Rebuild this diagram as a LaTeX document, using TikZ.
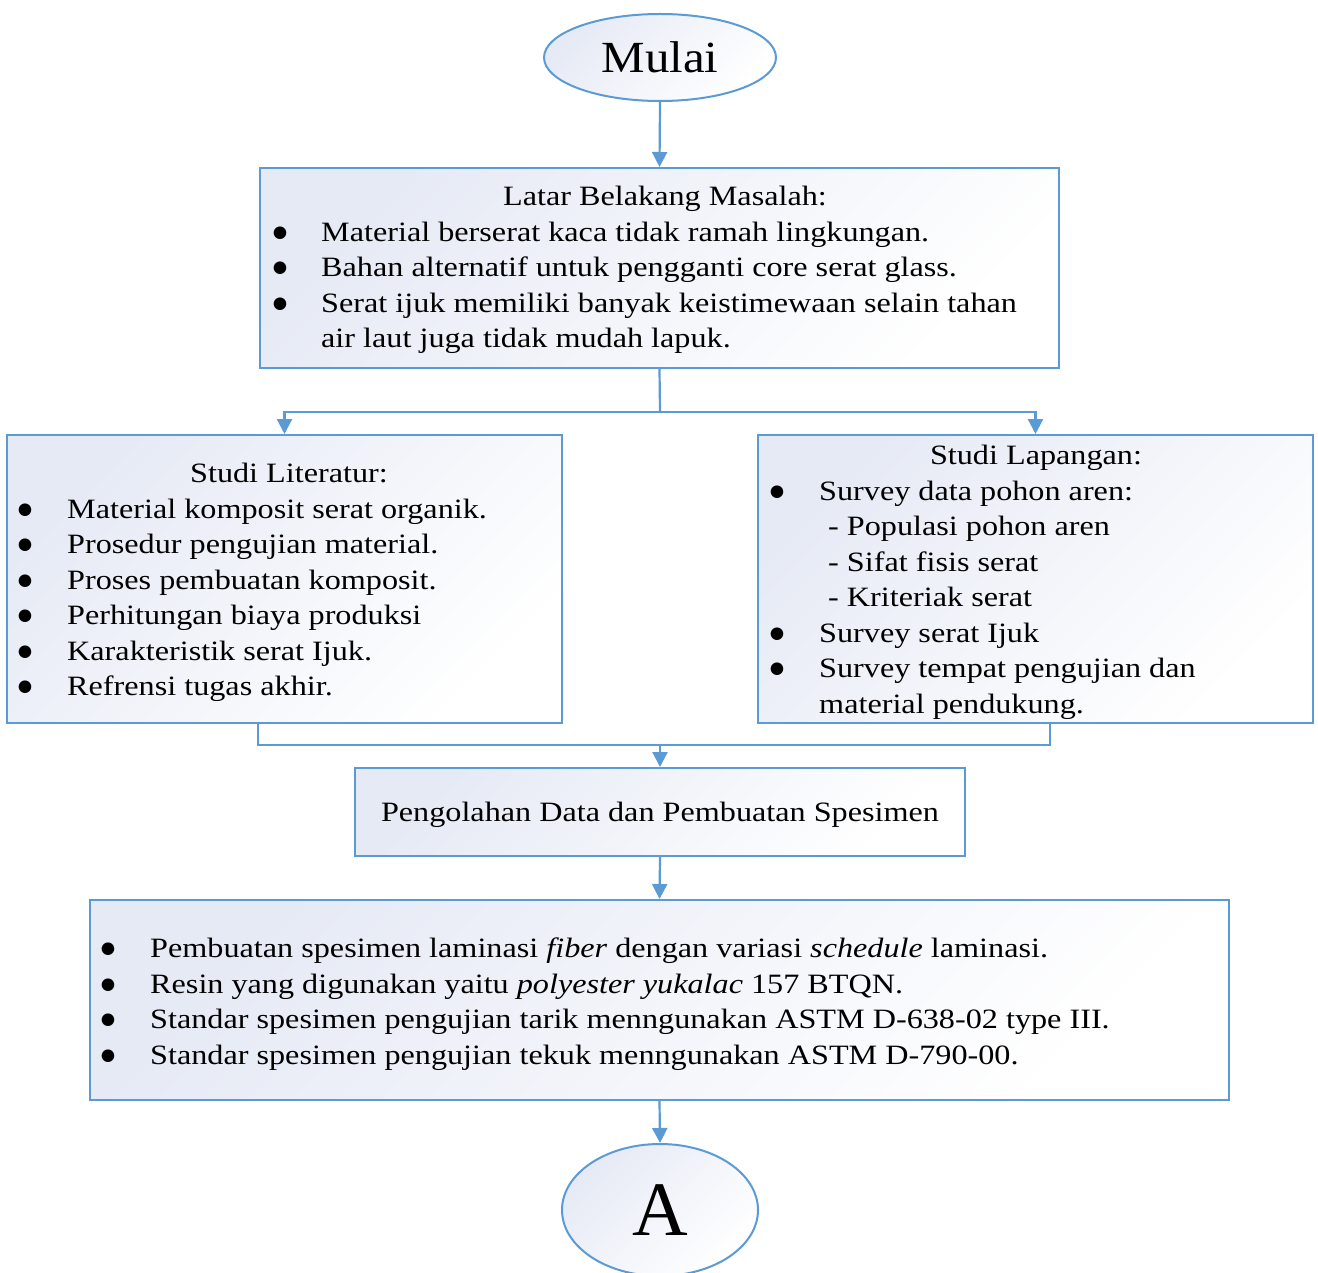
\documentclass[tikz,border=0pt]{standalone}
\usepackage{fontspec}
\setmainfont{Liberation Serif}
\newfontfamily\bodyf[FakeStretch=1.15]{Liberation Serif}
\newfontfamily\titlef[FakeStretch=1.1]{Liberation Serif}
\newfontfamily\symf{DejaVu Sans}
\usetikzlibrary{shapes.geometric,arrows.meta}
\definecolor{edge}{HTML}{5B9BD5}
\definecolor{shadeA}{HTML}{E6EAF5}
\newcommand{\bigbul}{\raisebox{4pt}{\symf\fontsize{16.5}{16.5}\selectfont ●}}
\begin{document}
\begin{tikzpicture}[x=1pt,y=-1pt,
 box/.style={draw=edge, line width=2pt, top color=shadeA, bottom color=white, shading angle=45, rectangle, inner sep=0pt},
 oval/.style={box, ellipse},
 ln/.style={draw=edge, line width=2.2pt},
 arr/.style={ln, -{Triangle[width=15pt,length=15pt]}},
 txt/.style={anchor=base west, inner sep=0pt, font=\bodyf\fontsize{28}{35.5}\selectfont},
 ttl/.style={txt, anchor=base},
 blt/.style={txt, anchor=base},
]
\useasboundingbox[fill=white] (0,0) rectangle (1318,1273);

% shapes
\node[oval, minimum width=232pt, minimum height=87pt, font=\titlef\fontsize{44.5}{44.5}\selectfont] (mulai) at (660,57.5) {Mulai};
\node[box, minimum width=799pt, minimum height=200pt] (latar) at (659.5,268) {};
\node[box, minimum width=555pt, minimum height=288pt] (lit) at (284.5,579) {};
\node[box, minimum width=555pt, minimum height=288pt] (lap) at (1035.5,579) {};
\node[box, minimum width=610pt, minimum height=88pt, text depth=0pt, font=\bodyf\fontsize{28}{35.5}\selectfont] (peng) at (660,812) {Pengolahan Data dan Pembuatan Spesimen};
\node[box, minimum width=1139pt, minimum height=200pt] (bot) at (659.5,1000) {};
\node[oval, minimum width=196pt, minimum height=132pt, font=\fontsize{77}{77}\selectfont] (endA) at (660,1210) {A};

% connectors
\coordinate (sp) at (660,412);
\coordinate (j1) at (258,745);
\coordinate (j2) at (1050,745);
\coordinate (jm) at (660,745);
\draw[arr] (mulai.south) -- (latar.north);
\draw[ln] (latar.south) -- (sp);
\draw[arr] (sp) -| (lit.north);
\draw[arr] (sp) -| (lap.north);
\draw[ln] (lit.south -| j1) -- (j1) -- (j2) -- (lap.south -| j2);
\draw[arr] (jm) -- (peng.north);
\draw[arr] (peng.south) -- (bot.north);
\draw[arr] (bot.south) -- (endA.north);

% Latar Belakang
\node[ttl] (lt0) at (665,206) {Latar Belakang Masalah:};
\node[blt] (lb1) at (280,241.5) {\bigbul};
\node[txt] (lt1) at (321,241.5) {Material berserat kaca tidak ramah lingkungan.};
\node[blt] (lb2) at (280,277) {\bigbul};
\node[txt] (lt2) at (321,277) {Bahan alternatif untuk pengganti core serat glass.};
\node[blt] (lb3) at (280,312.5) {\bigbul};
\node[txt] (lt3) at (321,312.5) {Serat ijuk memiliki banyak keistimewaan selain tahan};
\node[txt] (lt4) at (321,348) {air laut juga tidak mudah lapuk.};

% Studi Literatur
\node[ttl] (st0) at (289,482.5) {Studi Literatur:};
\node[blt] (sb1) at (25,518) {\bigbul};
\node[txt] (st1) at (67,518) {Material komposit serat organik.};
\node[blt] (sb2) at (25,553.5) {\bigbul};
\node[txt] (st2) at (67,553.5) {Prosedur pengujian material.};
\node[blt] (sb3) at (25,589) {\bigbul};
\node[txt] (st3) at (67,589) {Proses pembuatan komposit.};
\node[blt] (sb4) at (25,624.5) {\bigbul};
\node[txt] (st4) at (67,624.5) {Perhitungan biaya produksi};
\node[blt] (sb5) at (25,660) {\bigbul};
\node[txt] (st5) at (67,660) {Karakteristik serat Ijuk.};
\node[blt] (sb6) at (25,695.5) {\bigbul};
\node[txt] (st6) at (67,695.5) {Refrensi tugas akhir.};

% Studi Lapangan
\node[ttl] (fl0) at (1036,464.5) {Studi Lapangan:};
\node[blt] (fb1) at (777,500) {\bigbul};
\node[txt] (fl1) at (819,500) {Survey data pohon aren:};
\node[txt] (fl2) at (828,535.5) {- Populasi pohon aren};
\node[txt] (fl3) at (828,571) {- Sifat fisis serat};
\node[txt] (fl4) at (828,606.5) {- Kriteriak serat};
\node[blt] (fb5) at (777,642) {\bigbul};
\node[txt] (fl5) at (819,642) {Survey serat Ijuk};
\node[blt] (fb6) at (777,677.5) {\bigbul};
\node[txt] (fl6) at (819,677.5) {Survey tempat pengujian dan};
\node[txt] (fl7) at (819,713) {material pendukung.};

% bottom box
\node[blt] (bb1) at (108,957.5) {\bigbul};
\node[txt] (bt1) at (150,957.5) {Pembuatan spesimen laminasi \textit{fiber} dengan variasi \textit{schedule} laminasi.};
\node[blt] (bb2) at (108,993) {\bigbul};
\node[txt] (bt2) at (150,993) {Resin yang digunakan yaitu \textit{polyester yukalac} 157 BTQN.};
\node[blt] (bb3) at (108,1028.5) {\bigbul};
\node[txt] (bt3) at (150,1028.5) {Standar spesimen pengujian tarik menngunakan ASTM D-638-02 type III.};
\node[blt] (bb4) at (108,1064) {\bigbul};
\node[txt] (bt4) at (150,1064) {Standar spesimen pengujian tekuk menngunakan ASTM D-790-00.};
\end{tikzpicture}
\end{document}
